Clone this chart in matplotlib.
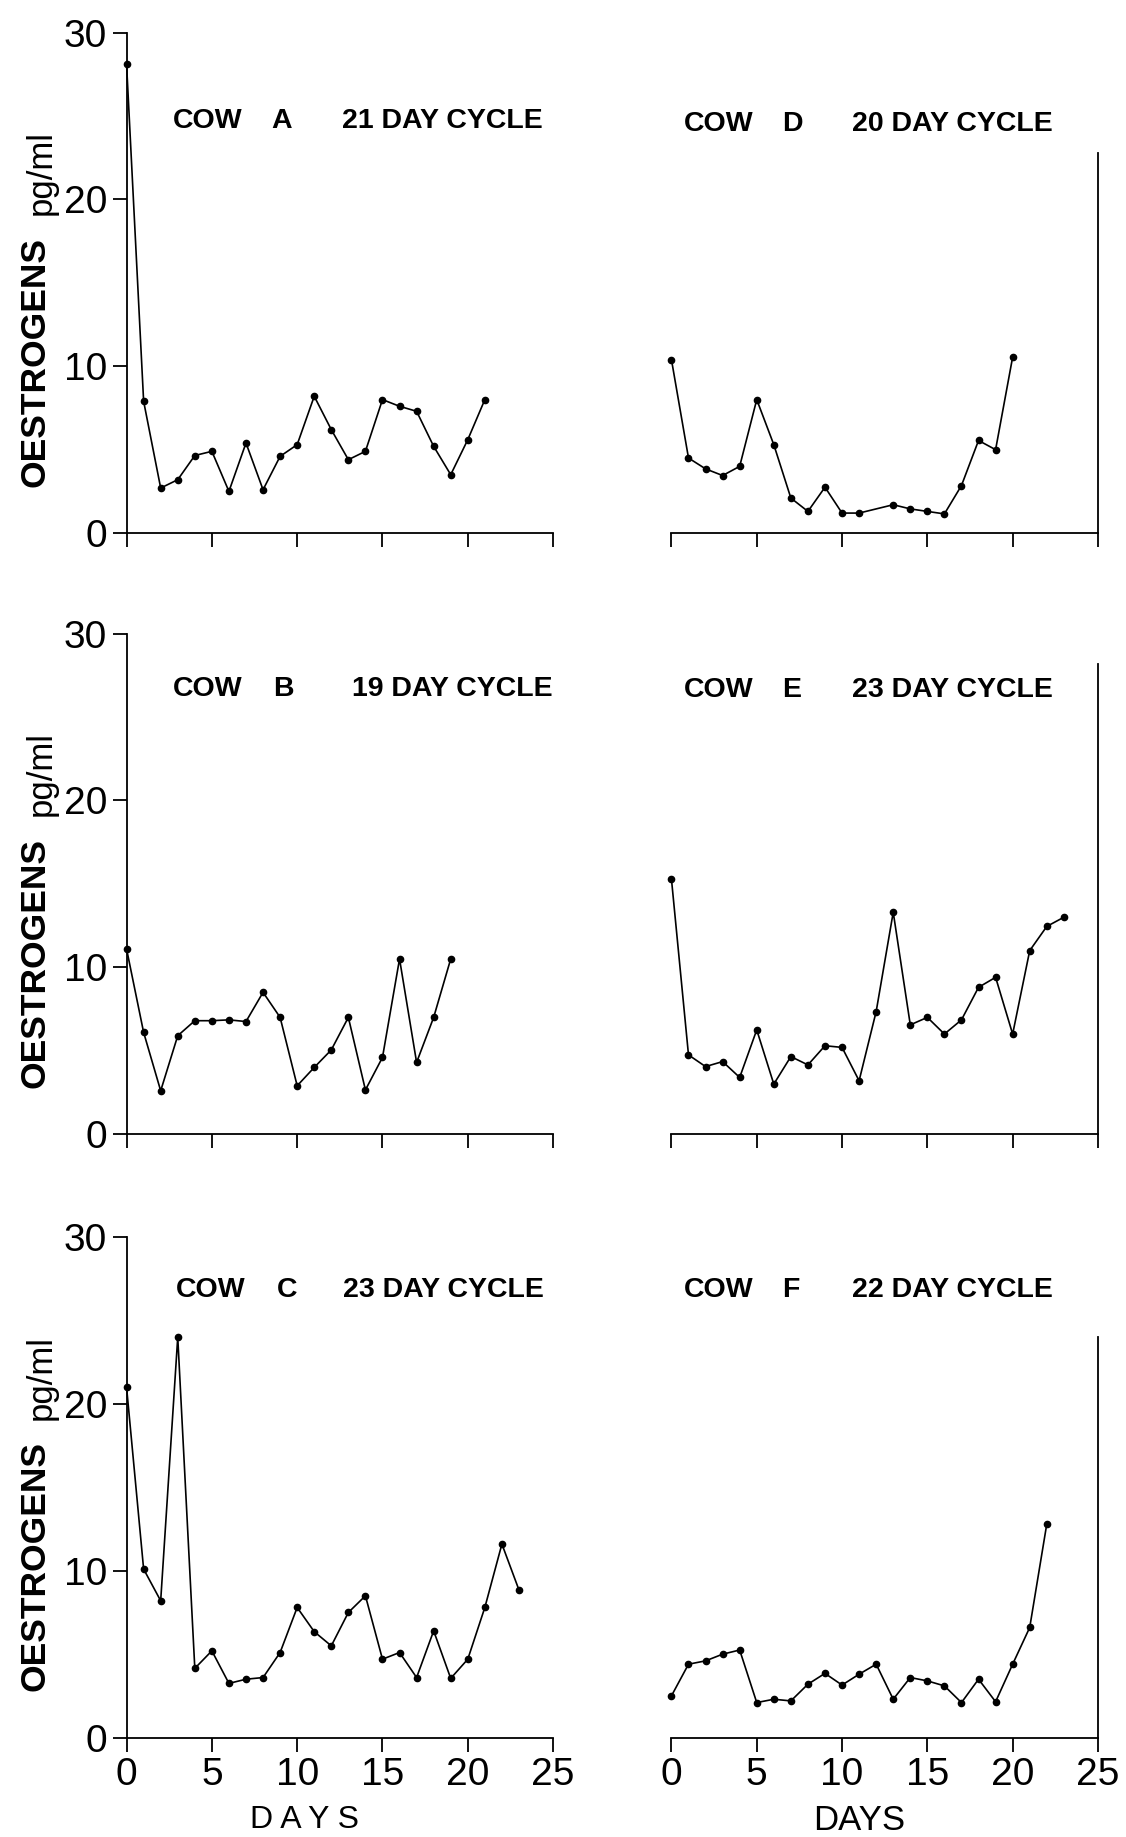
import matplotlib
matplotlib.use("Agg")
import matplotlib.pyplot as plt

plt.rcParams["font.family"] = ["Liberation Sans", "DejaVu Sans"]

# oestrogen concentration (pg/ml) by day of the cycle, one series per cow
days_a = list(range(0, 22))
oest_a = [28.1, 7.9, 2.7, 3.2, 4.65, 4.9, 2.5, 5.4, 2.6, 4.6, 5.3, 8.2,
          6.2, 4.4, 4.9, 8.0, 7.6, 7.3, 5.2, 3.5, 5.6, 8.0]

days_b = list(range(0, 20))
oest_b = [11.1, 6.1, 2.6, 5.9, 6.8, 6.8, 6.85, 6.75, 8.5, 7.0, 2.9, 4.0,
          5.05, 7.0, 2.65, 4.6, 10.5, 4.3, 7.0, 10.5]

days_c = list(range(0, 24))
oest_c = [21.0, 10.1, 8.2, 24.0, 4.15, 5.2, 3.25, 3.5, 3.6, 5.1, 7.8, 6.35,
          5.5, 7.5, 8.5, 4.7, 5.1, 3.6, 6.4, 3.55, 4.7, 7.8, 11.6, 8.85]

days_d = list(range(0, 12)) + list(range(13, 21))
oest_d = [10.4, 4.5, 3.85, 3.45, 4.0, 8.0, 5.3, 2.1, 1.3, 2.75, 1.2, 1.2,
          1.7, 1.45, 1.3, 1.15, 2.85, 5.55, 5.0, 10.55]

days_e = list(range(0, 24))
oest_e = [15.3, 4.75, 4.05, 4.35, 3.4, 6.25, 3.0, 4.65, 4.15, 5.3, 5.2, 3.2,
          7.35, 13.3, 6.55, 7.0, 6.0, 6.85, 8.8, 9.4, 6.0, 11.0, 12.45, 13.0]

days_f = list(range(0, 23))
oest_f = [2.5, 4.4, 4.6, 5.0, 5.25, 2.1, 2.3, 2.2, 3.2, 3.85, 3.15, 3.8,
          4.4, 2.3, 3.6, 3.4, 3.1, 2.1, 3.5, 2.15, 4.4, 6.6, 12.8]

cow_names = ["A", "B", "C", "D", "E", "F"]
cycle_labels = ["21 DAY CYCLE", "19 DAY CYCLE", "23 DAY CYCLE",
                "20 DAY CYCLE", "23 DAY CYCLE", "22 DAY CYCLE"]
series = [(days_a, oest_a), (days_b, oest_b), (days_c, oest_c),
          (days_d, oest_d), (days_e, oest_e), (days_f, oest_f)]

# top of the partial right-hand frame line on the right column
right_frame_top = {"D": 22.8, "E": 28.2, "F": 24.0}

# label positions in data units: (y, x of "COW", x of letter, x of cycle text)
label_pos = {
    "A": (24.7, 2.7, 8.5, 12.6),
    "B": (26.7, 2.7, 8.6, 13.2),
    "C": (26.8, 2.9, 8.8, 12.7),
    "D": (24.5, 0.7, 6.5, 10.6),
    "E": (26.6, 0.7, 6.5, 10.6),
    "F": (26.8, 0.7, 6.5, 10.6),
}

fig = plt.figure(figsize=(11.26, 18.37), dpi=100)

lefts = [0.1124, 0.5963]
bottoms = [0.7098, 0.3826, 0.0541]
w, h = 0.3788, 0.2725

tick_fs = 28
title_fs = 20.5

for i, (name, cyc, (dx, dy)) in enumerate(zip(cow_names, cycle_labels, series)):
    col = i // 3
    row = i % 3
    ax = fig.add_axes([lefts[col], bottoms[row], w, h])
    ax.plot(dx, dy, "-", color="black", lw=1.2, marker="o", ms=4.5,
            clip_on=False, zorder=3)
    ax.set_xlim(0, 25)
    ax.set_ylim(0, 30)
    ax.set_xticks([0, 5, 10, 15, 20, 25])
    ax.spines["top"].set_visible(False)
    ax.tick_params(axis="both", direction="out", length=10, width=1.3,
                   labelsize=tick_fs, pad=4)
    for s in ax.spines.values():
        s.set_linewidth(1.3)

    if col == 0:
        ax.spines["right"].set_visible(False)
        ax.set_yticks([0, 10, 20, 30])
        ax.text(-0.215, 0.342, "OESTROGENS", transform=ax.transAxes,
                rotation=90, ha="center", va="center", fontsize=25.5,
                fontweight="bold")
        ax.text(-0.2, 0.72, "pg/ml", transform=ax.transAxes,
                rotation=90, ha="center", va="center", fontsize=25)
    else:
        ax.spines["left"].set_visible(False)
        ax.spines["right"].set_bounds(0, right_frame_top[name])
        ax.set_yticks([])

    if row < 2:
        ax.tick_params(axis="x", labelbottom=False)
    elif col == 0:
        ax.text(0.417, -0.165, "D A Y S", transform=ax.transAxes,
                ha="center", va="center", fontsize=23)
    else:
        ax.text(0.44, -0.165, "DAYS", transform=ax.transAxes,
                ha="center", va="center", fontsize=25)

    ly, x_cow, x_let, x_cyc = label_pos[name]
    ax.text(x_cow, ly, "COW", fontsize=title_fs, va="center", ha="left",
            fontweight="bold")
    ax.text(x_let, ly, name, fontsize=title_fs, va="center", ha="left",
            fontweight="bold")
    ax.text(x_cyc, ly, cyc, fontsize=title_fs, va="center", ha="left",
            fontweight="bold")

fig.savefig("out.png", dpi=100, facecolor="white")
